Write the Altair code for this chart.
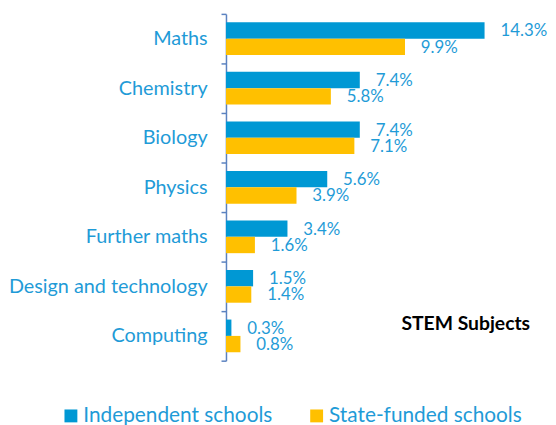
import altair as alt
import pandas as pd

subjects = ["Maths", "Chemistry", "Biology", "Physics", "Further maths",
            "Design and technology", "Computing"]
independent = [14.3, 7.4, 7.4, 5.6, 3.4, 1.5, 0.3]
state_funded = [9.9, 5.8, 7.1, 3.9, 1.6, 1.4, 0.8]
schools = ["Independent schools", "State-funded schools"]
colors = ["#0098d4", "#ffc000"]
annotation = "STEM Subjects"

rows = []
for s, a, b in zip(subjects, independent, state_funded):
    rows.append({"subject": s, "school": schools[0], "value": a, "label": f"{a:.1f}%"})
    rows.append({"subject": s, "school": schools[1], "value": b, "label": f"{b:.1f}%"})
df = pd.DataFrame(rows)
ann = pd.DataFrame([{"subject": "Computing", "value": 13.26, "label": annotation}])

FONT = "Lato"
TXT = "#1f9bd7"

y_enc = alt.Y("subject:N", sort=subjects,
              scale=alt.Scale(paddingInner=0, paddingOuter=0),
              axis=alt.Axis(title=None, tickBand="extent", domainColor="#5b82c0",
                            tickColor="#5b82c0", tickSize=5, domainWidth=1.5, tickWidth=1.5,
                            labelFont=FONT, labelFontSize=20, labelColor=TXT,
                            labelPadding=14, minExtent=219, labelLimit=300, grid=False))
x_enc = alt.X("value:Q", scale=alt.Scale(domain=[0, 16]), axis=None)
yo = alt.YOffset("school:N", sort=schools, scale=alt.Scale(paddingOuter=0.515, paddingInner=0))

bars = alt.Chart(df).mark_bar().encode(
    y=y_enc, x=x_enc, yOffset=yo,
    color=alt.Color("school:N", scale=alt.Scale(domain=schools, range=colors),
                    legend=alt.Legend(title=None, orient="none", legendX=-167, legendY=395,
                                      direction="horizontal", symbolType="square",
                                      symbolSize=169, symbolStrokeWidth=0,
                                      labelFont=FONT, labelFontSize=21, labelColor=TXT,
                                      labelLimit=400,
                                      columnPadding=34, labelOffset=2, padding=0)),
)
labels = alt.Chart(df).mark_text(align="left", baseline="middle", dx=16, dy=1,
                                 font=FONT, fontSize=17, color=TXT).encode(
    y=y_enc, x=x_enc, yOffset=yo, text="label:N")
note = alt.Chart(ann).mark_text(align="center", baseline="middle", dy=-12,
                                font=FONT, fontSize=19.5, fontWeight="bold",
                                color="#000000").encode(
    y=y_enc, x=x_enc, text="label:N")

chart = alt.layer(bars, labels, note).properties(
    width=292, height=350,
    padding={"left": 0, "top": -6, "right": 0, "bottom": 0},
).configure_view(stroke=None)

chart.save("out.html", embed_options={"renderer": "svg", "actions": False})
